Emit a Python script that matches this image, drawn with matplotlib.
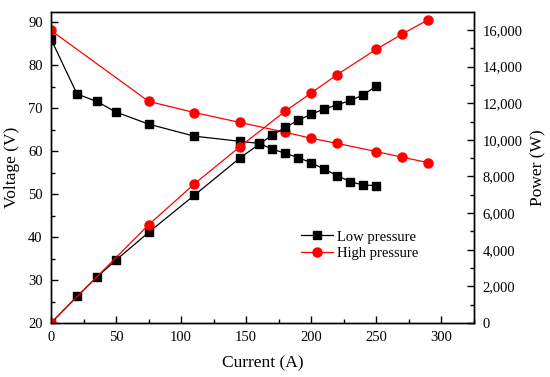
import matplotlib.pyplot as plt
from matplotlib.ticker import MultipleLocator, FuncFormatter

plt.rcParams['font.family'] = ['Liberation Serif', 'DejaVu Serif']

# low pressure
I_low = [0, 20, 35, 50, 75, 110, 145, 160, 170, 180, 190, 200, 210, 220, 230, 240, 250]
V_low = [86.1, 73.3, 71.6, 69.1, 66.3, 63.5, 62.3, 61.8, 60.5, 59.5, 58.5, 57.3, 55.8, 54.3, 52.9, 52.1, 52.0]
P_low = [0, 1456, 2493, 3437, 4947, 6966, 9000, 9764, 10255, 10675, 11073, 11401, 11690, 11910, 12148, 12454, 12945]

# high pressure
I_high = [0, 75, 110, 145, 180, 200, 220, 250, 270, 290]
V_high = [88.1, 71.6, 69.0, 66.7, 64.4, 63.0, 61.8, 59.9, 58.6, 57.3]
P_high = [0, 5363, 7583, 9617, 11565, 12563, 13567, 14947, 15781, 16567]

fig = plt.figure(figsize=(5.5, 3.77), dpi=100)
ax = fig.add_axes([0.0927, 0.1432, 0.7691, 0.825])
ax2 = ax.twinx()

l1, = ax.plot(I_low, V_low, 'k-', marker='s', ms=5.5, lw=0.9)
ax.plot(I_high, V_high, '-', color='red', marker='o', ms=6.5, lw=0.9)
ax2.plot(I_low, P_low, 'k-', marker='s', ms=5.5, lw=0.9)
l2, = ax2.plot(I_high, P_high, '-', color='red', marker='o', ms=6.5, lw=0.9)

ax.set_xlim(0, 325)
ax.set_ylim(20, 92.4)
ax2.set_ylim(0, 16980)

ax.xaxis.set_major_locator(MultipleLocator(50))
ax.xaxis.set_minor_locator(MultipleLocator(25))
ax.yaxis.set_major_locator(MultipleLocator(10))
ax.yaxis.set_minor_locator(MultipleLocator(5))
ax2.yaxis.set_major_locator(MultipleLocator(2000))
ax2.yaxis.set_minor_locator(MultipleLocator(1000))
ax2.yaxis.set_major_formatter(FuncFormatter(lambda v, p: f'{int(v):,}'))

for a in (ax, ax2):
    a.tick_params(which='major', direction='in', length=5, width=1, labelsize=10.5, pad=6)
    a.tick_params(which='minor', direction='in', length=3, width=1)
    for s in a.spines.values():
        s.set_linewidth(1)
ax.tick_params(which='both', top=False)

ax.set_xlabel('Current (A)', fontsize=12.5, labelpad=8)
ax.set_ylabel('Voltage (V)', fontsize=12.5, labelpad=6)
ax2.set_ylabel('Power (W)', fontsize=12.5, labelpad=6)

ax.legend([l1, l2], ['Low pressure', 'High pressure'], frameon=False, fontsize=10.5,
          loc='upper left', bbox_to_anchor=(0.56, 0.34), handlelength=2.2,
          handletextpad=0.3, labelspacing=0.2)

fig.savefig('out.png', dpi=100)
